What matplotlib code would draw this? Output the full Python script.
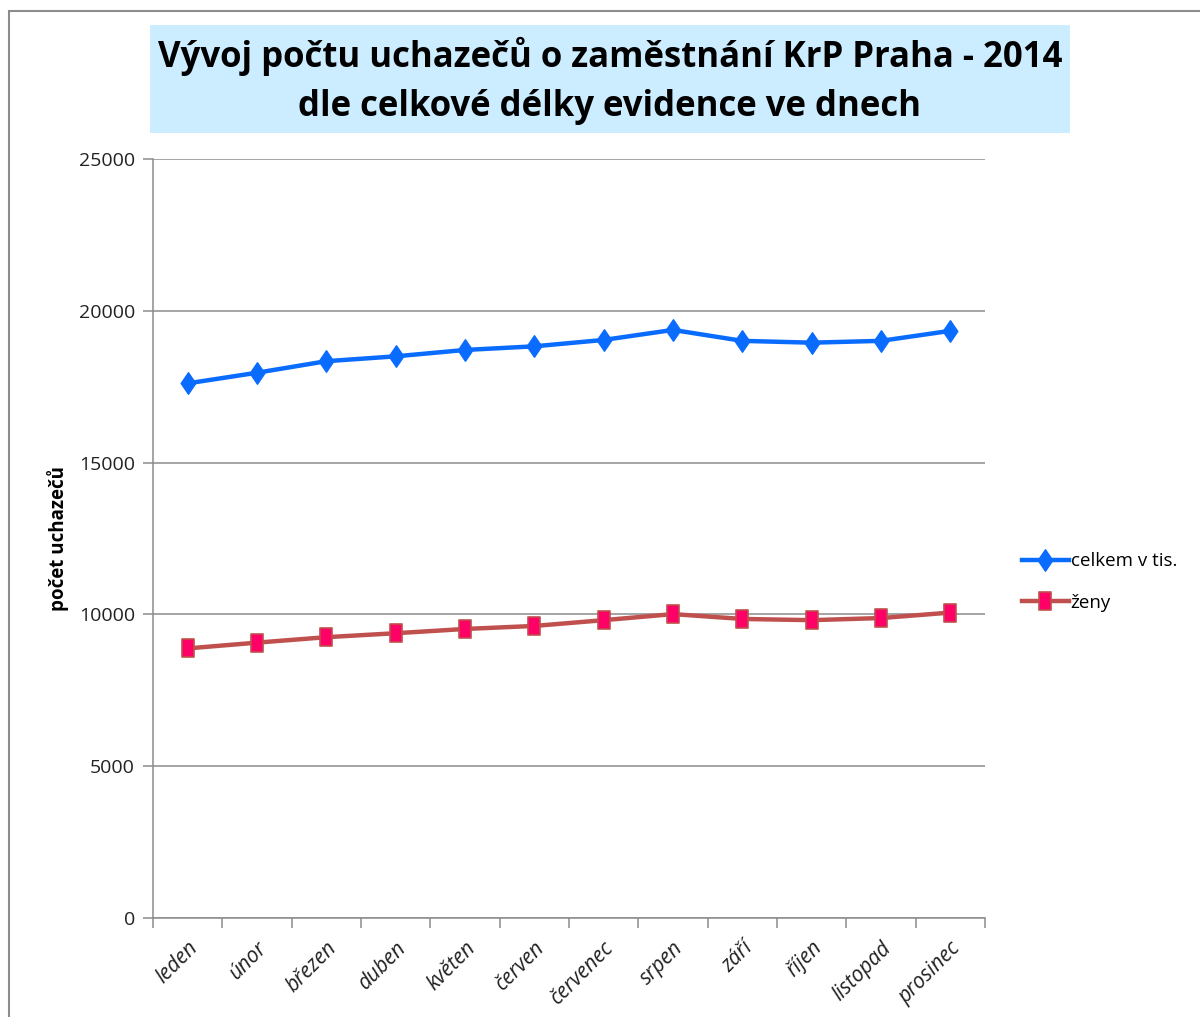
import matplotlib
matplotlib.use("Agg")
import matplotlib.pyplot as plt
from matplotlib.path import Path
from matplotlib.patches import Rectangle
import numpy as np

months = ["leden", "únor", "březen", "duben", "květen", "červen",
          "červenec", "srpen", "září", "říjen", "listopad", "prosinec"]
celkem = [17610, 17960, 18340, 18500, 18710, 18830,
          19040, 19370, 19010, 18950, 19010, 19340]
zeny = [8880, 9070, 9250, 9380, 9520, 9620,
        9810, 10010, 9850, 9810, 9880, 10060]
yticks = [0, 5000, 10000, 15000, 20000, 25000]

title = "Vývoj počtu uchazečů o zaměstnání KrP Praha - 2014\ndle celkové délky evidence ve dnech"
ylabel = "počet uchazečů"

plt.rcParams['font.family'] = ['Open Sans', 'DejaVu Sans']

fig = plt.figure(figsize=(12, 10.17), dpi=100)
W, H = 1200, 1017
ax = fig.add_axes([153 / W, 1 - 918 / H, (985 - 153) / W, (918 - 159) / H])

diamond = Path([(0, 1), (0.68, 0), (0, -1), (-0.68, 0), (0, 1)],
               [Path.MOVETO, Path.LINETO, Path.LINETO, Path.LINETO, Path.CLOSEPOLY])
rect = Path([(-0.62, -1), (0.62, -1), (0.62, 1), (-0.62, 1), (-0.62, -1)],
            [Path.MOVETO, Path.LINETO, Path.LINETO, Path.LINETO, Path.CLOSEPOLY])

x = np.arange(len(months))
ax.plot(x, celkem, color='#0A6CFF', lw=3.2, marker=diamond, markersize=15.5,
        markerfacecolor='#0A6CFF', markeredgecolor='#0A6CFF', label='celkem v tis.', zorder=3)
ax.plot(x, zeny, color='#C0504D', lw=3.2, marker=rect, markersize=13.5,
        markerfacecolor='#FF0066', markeredgecolor='#C0504D', markeredgewidth=1.2,
        label='ženy', zorder=3)

ax.set_xlim(-0.5, len(months) - 0.5)
ax.set_ylim(0, 25000)
ax.set_yticks(yticks)
ax.set_yticklabels([str(v) for v in yticks], fontsize=14, color='#222222')
ax.yaxis.grid(True, color='#8c8c8c', lw=1.1)
ax.set_axisbelow(True)

ax.set_xticks(x)
ax.set_xticklabels(months, rotation=45, ha='right', rotation_mode='anchor',
                   fontsize=15, style='italic', color='#222222')
ax.set_xticks(np.arange(-0.5, len(months)), minor=True)
ax.tick_params(axis='x', which='major', length=0, pad=14)
ax.tick_params(axis='x', which='minor', length=7, color='#8c8c8c', width=1.1)
ax.tick_params(axis='y', length=7, color='#8c8c8c', width=1.1, pad=6)

for s in ['top', 'right']:
    ax.spines[s].set_visible(False)
for s in ['left', 'bottom']:
    ax.spines[s].set_color('#8c8c8c')
    ax.spines[s].set_linewidth(1.1)

ax.set_ylabel(ylabel, fontsize=13.5, fontweight='bold', labelpad=7)

# title box
fig.patches.append(Rectangle((150 / W, 1 - 133 / H), (1070 - 150) / W, (133 - 25) / H,
                             transform=fig.transFigure, facecolor='#CCECFF',
                             edgecolor='none', zorder=0))
fig.text(610 / W, 1 - 81 / H, title, ha='center', va='center', fontsize=25,
         fontweight='bold', linespacing=1.5, color='black')

# outer border
fig.patches.append(Rectangle((9 / W, -0.01), 1.02, 1 - 11 / H + 0.01,
                             transform=fig.transFigure, facecolor='none',
                             edgecolor='#8c8c8c', lw=1.5, zorder=0))

leg = fig.legend(loc='center left', bbox_to_anchor=(1005 / W, 1 - 582 / H), frameon=False,
                 fontsize=13.5, handlelength=2.5, handletextpad=0.1, labelspacing=1.25)

fig.savefig("out.png", dpi=100)
